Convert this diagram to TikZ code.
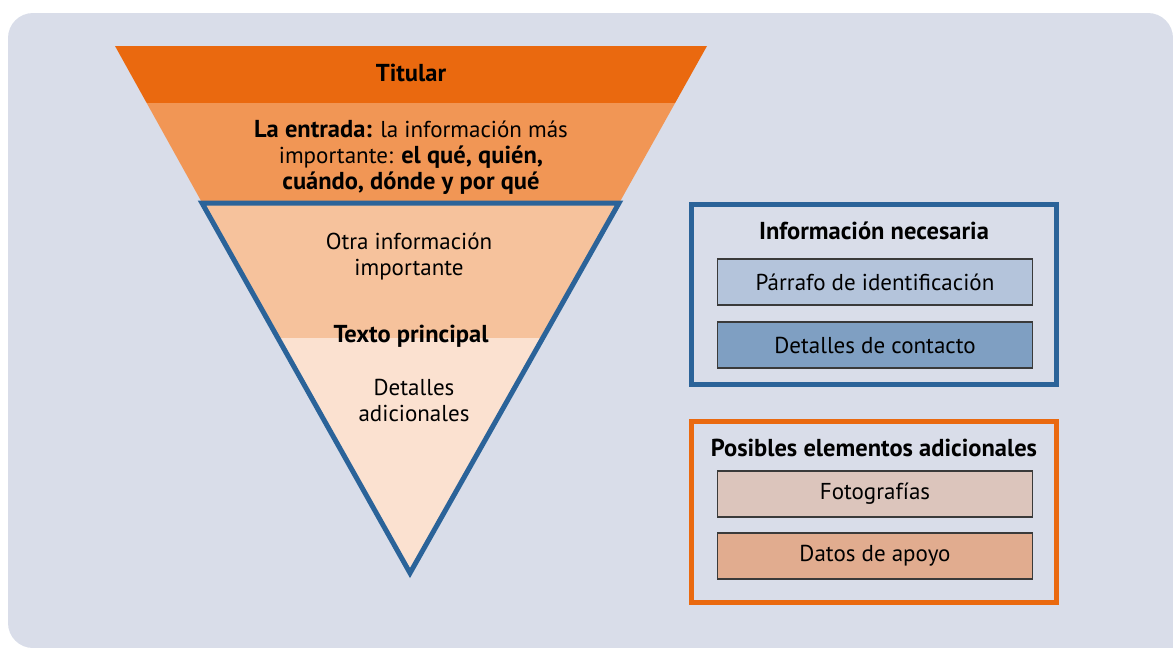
\documentclass[tikz,border=0pt]{standalone}
\usepackage{fontspec}
\setmainfont{PT Sans}
\definecolor{fondo}{HTML}{D9DDE9}
\definecolor{naranja}{HTML}{EA690F}
\definecolor{entradac}{HTML}{F19655}
\definecolor{otrac}{HTML}{F6C29C}
\definecolor{detallec}{HTML}{FBE1D0}
\definecolor{azul}{HTML}{2B6399}
\definecolor{azulA}{HTML}{B4C4DB}
\definecolor{azulB}{HTML}{7F9FC2}
\definecolor{rosaA}{HTML}{DCC5BC}
\definecolor{rosaB}{HTML}{E1AC8F}
\definecolor{borde}{HTML}{3A3A3A}
\newcommand{\negrita}[1]{{\fontsize{24.5}{26}\selectfont\bfseries #1}}
\begin{document}
\begin{tikzpicture}[x=1pt, y=-1pt,
	every node/.style={font=\fontsize{23}{26}\selectfont, text=black},
	titulo/.style={font=\fontsize{24.5}{26}\selectfont\bfseries},
	item/.style={draw=borde, line width=1.5pt, minimum width=315pt, minimum height=46pt, inner sep=0pt},
	marco/.style={line width=5pt}]

\clip (0, 0) rectangle (1173, 648);
\fill[fondo, rounded corners=25pt] (8, 13) rectangle (1173, 648);
\fill[fondo] (600, 300) rectangle (1173, 648);

% embudo
\begin{scope}
	\clip (115, 46) -- (707, 46) -- (410, 577) -- cycle;
	\foreach \c/\ya/\yb in {naranja/46/103, entradac/103/202, otrac/202/338, detallec/338/600}
	\fill[\c] (100, \ya) rectangle (720, \yb);
\end{scope}
\draw[azul, marco] (202, 203) -- (619, 203) -- (410, 573) -- cycle;

\node[titulo] (titular) at (411, 73) {Titular};
\node[align=center] (entrada) at (411, 157) {\negrita{La entrada:} la información más\\
	importante: \negrita{el qué, quién,}\\ \negrita{cuándo, dónde y por qué}};
\node[align=center] (otra) at (409, 257) {Otra información\\ importante};
\node[titulo] (principal) at (411, 336) {Texto principal};
\node[align=center] (detalles) at (414, 400) {Detalles\\ adicionales};

% cuadros de la derecha
\draw[azul, marco] (691, 204) rectangle (1056, 384);
\draw[naranja, marco] (691, 421) rectangle (1056, 602);
\node[titulo] (necesaria) at (874, 231) {Información necesaria};
\node[titulo] (posibles) at (874, 448) {Posibles elementos adicionales};
\foreach \n/\y/\c/\t in {
	parrafo/282/azulA/{Párrafo de identificación},
	contacto/345/azulB/{Detalles de contacto},
	fotos/494/rosaA/{Fotografías},
	apoyo/556/rosaB/{Datos de apoyo}}
\node[item, fill=\c] (\n) at (875, \y) {\t};

\end{tikzpicture}
\end{document}
